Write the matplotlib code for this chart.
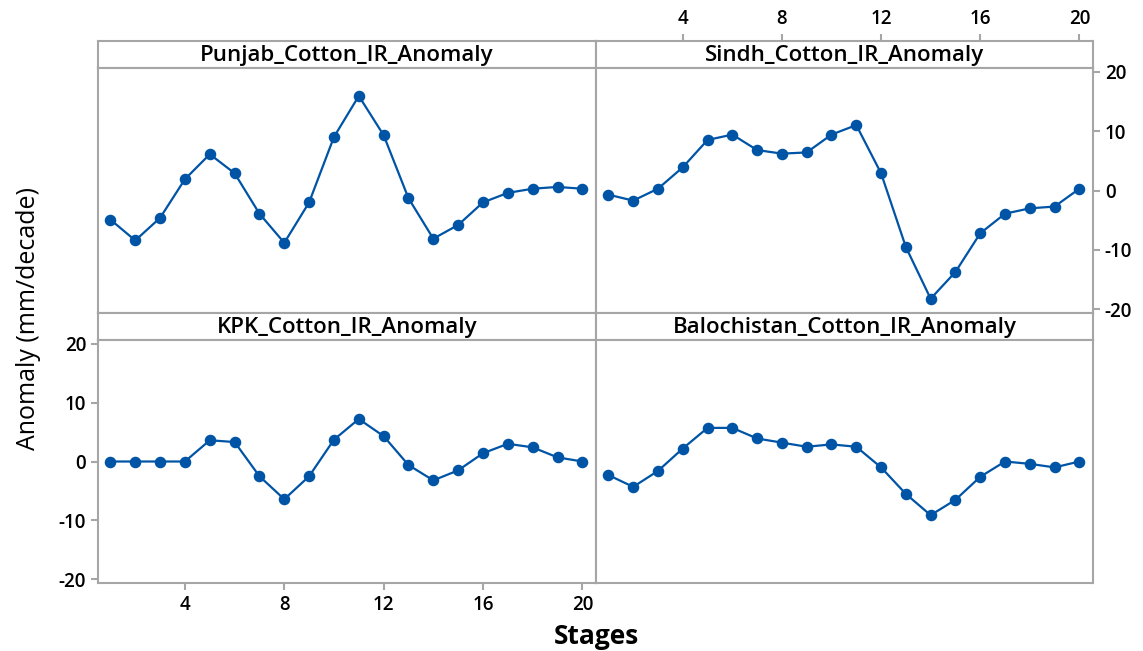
import matplotlib
matplotlib.use("Agg")
import matplotlib.pyplot as plt

# Anomaly per stage for each province
stages = list(range(1, 21))
punjab = [-4.9, -8.4, -4.6, 1.9, 6.1, 2.9, -3.9, -8.8, -2.0, 9.0,
          15.9, 9.3, -1.3, -8.1, -5.8, -2.0, -0.4, 0.3, 0.6, 0.3]
sindh = [-0.7, -1.7, 0.3, 3.9, 8.5, 9.4, 6.8, 6.2, 6.4, 9.4,
         11.0, 2.9, -9.5, -18.2, -13.7, -7.2, -3.9, -3.0, -2.7, 0.3]
kpk = [0.0, 0.0, 0.0, 0.0, 3.6, 3.3, -2.5, -6.4, -2.5, 3.7,
       7.2, 4.3, -0.6, -3.2, -1.5, 1.4, 3.0, 2.4, 0.7, 0.0]
balochistan = [-2.3, -4.3, -1.6, 2.2, 5.7, 5.7, 3.9, 3.2, 2.5, 2.9,
               2.5, -1.0, -5.5, -9.1, -6.5, -2.6, 0.0, -0.4, -1.0, 0.0]

titles = ["Punjab_Cotton_IR_Anomaly", "Sindh_Cotton_IR_Anomaly",
          "KPK_Cotton_IR_Anomaly", "Balochistan_Cotton_IR_Anomaly"]
series = [punjab, sindh, kpk, balochistan]
xticks = [4, 8, 12, 16, 20]
yticks = [-20, -10, 0, 10, 20]

plt.rcParams['font.family'] = ['Open Sans', 'DejaVu Sans']
plt.rcParams['axes.unicode_minus'] = False

blue = "#0054a6"
grey = "#a6a6a6"
XLIM = (0.5, 20.55)
TICKSIZE = 13.5

W, H = 1143, 651
fig = plt.figure(figsize=(W / 100, H / 100), dpi=100)

cols = [(98, 596), (596, 1093)]
rows = [(41, 68, 313), (313, 340, 583)]  # header top, plot top, plot bottom


def style_ticks(a):
    a.tick_params(colors=grey, width=1.5, length=5, labelcolor="black",
                  labelsize=TICKSIZE)
    for lab in a.get_xticklabels() + a.get_yticklabels():
        lab.set_fontweight("semibold")


for i, (title, vals) in enumerate(zip(titles, series)):
    r, c = divmod(i, 2)
    x0, x1 = cols[c]
    htop, ptop, pbot = rows[r]

    # header strip
    hax = fig.add_axes([x0 / W, 1 - ptop / H, (x1 - x0) / W, (ptop - htop) / H])
    hax.set_xlim(*XLIM)
    hax.set_xticks([])
    hax.set_yticks([])
    for s in hax.spines.values():
        s.set_color(grey)
        s.set_linewidth(1.5)
    hax.text(0.5, 0.45, title, ha="center", va="center", fontsize=16,
             fontweight="semibold", transform=hax.transAxes)
    if i == 1:
        hax.set_xticks(xticks)
        hax.tick_params(bottom=False, labelbottom=False, top=True, labeltop=True)
        style_ticks(hax)

    ax = fig.add_axes([x0 / W, 1 - pbot / H, (x1 - x0) / W, (pbot - ptop) / H])
    ax.plot(stages, vals, color=blue, lw=1.6, marker="o", ms=7.3, zorder=3)
    ax.set_xlim(*XLIM)
    ax.set_ylim(-20.6, 20.6)
    for s in ax.spines.values():
        s.set_color(grey)
        s.set_linewidth(1.5)
    ax.set_xticks(xticks)
    ax.set_yticks(yticks)

    if i == 1:
        ax.tick_params(bottom=False, labelbottom=False, left=False, labelleft=False,
                       right=True, labelright=True)
    elif i != 2:
        ax.tick_params(bottom=False, labelbottom=False, left=False, labelleft=False)
    style_ticks(ax)

fig.text(29 / W, 1 - 318 / H, "Anomaly (mm/decade)", rotation=90, ha="center",
         va="center", fontsize=18)
fig.text(596 / W, 1 - 637 / H, "Stages", ha="center", va="center",
         fontsize=19, fontweight="bold")

fig.savefig("out.png", dpi=100)
